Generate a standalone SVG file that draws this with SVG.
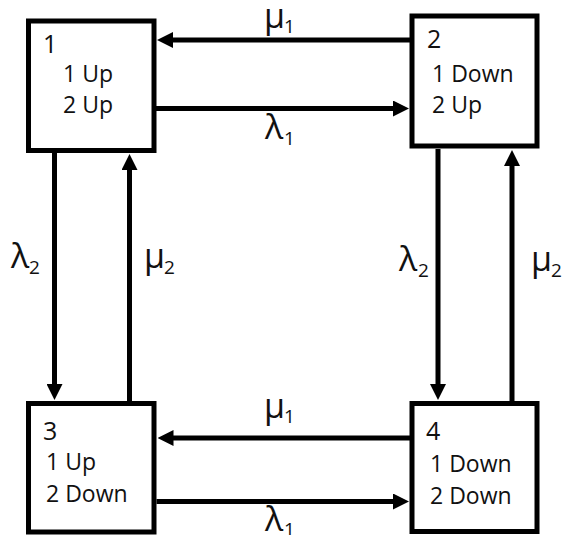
<svg xmlns="http://www.w3.org/2000/svg" width="566" height="535" viewBox="0 0 566 535">
  <style>
    .box { fill: #ffffff; stroke: #000000; stroke-width: 5; }
    .num { font-family: "Open Sans", "Liberation Sans", sans-serif; font-size: 25px; fill: #111111; }
    .txt { font-family: "Open Sans", "Liberation Sans", sans-serif; font-size: 23px; fill: #111111; }
    .rate { font-family: "Open Sans", "DejaVu Sans", sans-serif; font-size: 34px; fill: #111111; }
    .sub { font-family: "Open Sans", "Liberation Sans", sans-serif; font-size: 19px; fill: #111111; }
    .edge { stroke: #000000; stroke-width: 5; fill: none; marker-end: url(#head); }
  </style>
  <defs>
    <marker id="head" markerUnits="userSpaceOnUse" markerWidth="16" markerHeight="16" refX="1" refY="8" orient="auto">
      <path d="M0,0 L16,8 L0,16 Z" fill="#000000"/>
    </marker>
  </defs>
  <rect width="566" height="535" fill="#ffffff"/>

  <g id="connectors">
    <!-- top pair: state 1 <-> state 2 -->
    <line class="edge" x1="410" y1="40" x2="172" y2="40"/>
    <line class="edge" x1="156" y1="108.5" x2="394" y2="108.5"/>
    <!-- left pair: state 1 <-> state 3 -->
    <line class="edge" x1="54.5" y1="153" x2="54.5" y2="385"/>
    <line class="edge" x1="129.5" y1="401" x2="129.5" y2="169"/>
    <!-- right pair: state 2 <-> state 4 -->
    <line class="edge" x1="438" y1="149" x2="438" y2="385"/>
    <line class="edge" x1="512" y1="401" x2="512" y2="165"/>
    <!-- bottom pair: state 3 <-> state 4 -->
    <line class="edge" x1="410" y1="438" x2="172.5" y2="438"/>
    <line class="edge" x1="156.5" y1="501.5" x2="394" y2="501.5"/>

    <!-- transition rates -->
    <text class="rate" x="264" y="28">μ</text><text class="sub" x="284" y="33">1</text>
    <text class="rate" x="265" y="139">λ</text><text class="sub" x="284" y="145">1</text>
    <text class="rate" x="11" y="268">λ</text><text class="sub" x="29" y="274">2</text>
    <text class="rate" x="144" y="268">μ</text><text class="sub" x="164" y="274">2</text>
    <text class="rate" x="399" y="271">λ</text><text class="sub" x="418" y="277">2</text>
    <text class="rate" x="531" y="271">μ</text><text class="sub" x="551" y="277">2</text>
    <text class="rate" x="264" y="418">μ</text><text class="sub" x="284" y="423">1</text>
    <text class="rate" x="265" y="531">λ</text><text class="sub" x="284" y="536">1</text>
  </g>

  <g id="state1">
    <rect class="box" x="28.5" y="21" width="125.5" height="129.5"/>
    <text class="num" x="43" y="53">1</text>
    <text class="txt" x="63" y="82">1 Up</text>
    <text class="txt" x="63" y="113">2 Up</text>
  </g>

  <g id="state2">
    <rect class="box" x="412" y="16" width="125" height="130"/>
    <text class="num" x="427" y="48">2</text>
    <text class="txt" x="432" y="82">1 Down</text>
    <text class="txt" x="432" y="113">2 Up</text>
  </g>

  <g id="state3">
    <rect class="box" x="28.5" y="403.5" width="125.5" height="128.5"/>
    <text class="num" x="43" y="440">3</text>
    <text class="txt" x="46" y="470">1 Up</text>
    <text class="txt" x="46" y="502">2 Down</text>
  </g>

  <g id="state4">
    <rect class="box" x="412" y="403.5" width="125" height="128"/>
    <text class="num" x="426" y="440">4</text>
    <text class="txt" x="430" y="472">1 Down</text>
    <text class="txt" x="430" y="504">2 Down</text>
  </g>
</svg>
